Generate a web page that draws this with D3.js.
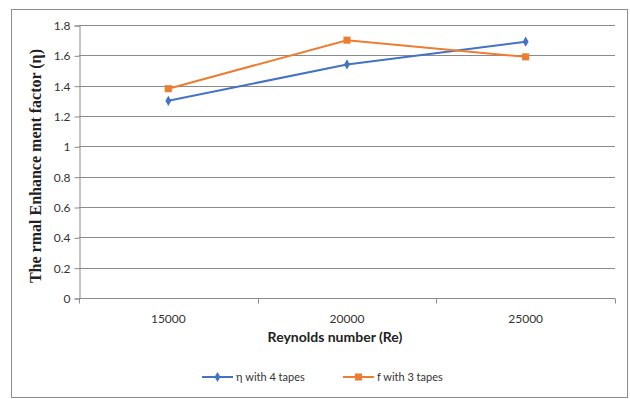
<!DOCTYPE html>
<html>
<head>
<meta charset="utf-8">
<script src="https://cdn.jsdelivr.net/npm/d3@7"></script>
<style>
  body { margin: 0; background: #fff; }
  svg { display: block; }
</style>
</head>
<body>
<div id="chart"><svg width="630" height="399"></svg></div>
<script>
const categories = ['15000', '20000', '25000'];
const seriesNames = ['η with 4 tapes', 'f with 3 tapes'];
const etaFourTapes = [1.30, 1.54, 1.69];
const fThreeTapes = [1.38, 1.70, 1.59];
const yTicks = [0, 0.2, 0.4, 0.6, 0.8, 1, 1.2, 1.4, 1.6, 1.8];

const SVG = d3.select('#chart svg');
const BLUE = '#4472c4';
const ORANGE = '#ed7d31';
const LEFT = 79, RIGHT = 615, TOP = 25, BOTTOM = 298;

// outer frame
SVG.append('rect')
  .attr('x', 11.5).attr('y', 9.5)
  .attr('width', 616).attr('height', 388)
  .style('fill', 'none')
  .style('stroke', '#8c8c8c');

const X_SCALE = d3.scaleBand()
  .domain(categories)
  .range([LEFT, RIGHT]);

const Y_SCALE = d3.scaleLinear()
  .domain([0, 1.8])
  .range([BOTTOM, TOP]);

// gridlines
SVG.append('g')
  .selectAll('line')
  .data(yTicks.slice(1))
  .join('line')
  .attr('x1', LEFT).attr('x2', RIGHT)
  .attr('y1', d => Math.round(Y_SCALE(d)) + 0.5)
  .attr('y2', d => Math.round(Y_SCALE(d)) + 0.5)
  .style('stroke', '#8a8a8a');

const Y_AXIS = d3.axisLeft(Y_SCALE).tickValues(yTicks).tickSize(5).tickFormat(d3.format('~g'));
const Y_AXIS_G = SVG.append('g')
  .attr('transform', `translate(${LEFT + 0.5},0.5)`);
Y_AXIS(Y_AXIS_G);

// x axis with ticks at category boundaries
const X_AXIS_G = SVG.append('g')
  .attr('transform', `translate(0,${BOTTOM + 0.5})`);
X_AXIS_G.append('line')
  .attr('x1', LEFT).attr('x2', RIGHT)
  .style('stroke', '#8a8a8a');
const bounds = categories.map(c => X_SCALE(c)).concat([X_SCALE(categories[categories.length - 1]) + X_SCALE.bandwidth()]);
X_AXIS_G.selectAll('line.tk')
  .data(bounds)
  .join('line')
  .attr('class', 'tk')
  .attr('x1', d => Math.round(d) + 0.5).attr('x2', d => Math.round(d) + 0.5)
  .attr('y1', 0).attr('y2', 5)
  .style('stroke', '#8a8a8a');
X_AXIS_G.selectAll('text')
  .data(categories)
  .join('text')
  .attr('x', d => X_SCALE(d) + X_SCALE.bandwidth() / 2)
  .attr('y', 24)
  .text(d => d)
  .style('text-anchor', 'middle')
  .style('font-family', 'Lato, "Open Sans", sans-serif')
  .style('font-size', '12px')
  .style('fill', '#333');

Y_AXIS_G.select('.domain').style('stroke', '#8a8a8a');
Y_AXIS_G.selectAll('.tick line').style('stroke', '#8a8a8a');
Y_AXIS_G.selectAll('.tick text')
  .attr('x', -9)
  .style('font-family', 'Lato, "Open Sans", sans-serif')
  .style('font-size', '12px')
  .style('fill', '#333');

// axis titles
SVG.append('text')
  .attr('transform', `translate(41,166) rotate(-90)`)
  .text('The rmal Enhance ment factor (η)')
  .style('text-anchor', 'middle')
  .style('font-family', '"Liberation Serif", serif')
  .style('font-weight', 'bold')
  .style('font-size', '16px')
  .style('fill', '#222');

SVG.append('text')
  .attr('x', 335).attr('y', 342)
  .text('Reynolds number (Re)')
  .style('text-anchor', 'middle')
  .style('font-family', 'Lato, "Open Sans", sans-serif')
  .style('font-weight', 'bold')
  .style('font-size', '14px')
  .style('fill', '#222');

// series
const series = [
  { name: seriesNames[0], values: etaFourTapes, color: BLUE, symbol: d3.symbolDiamond, size: 30 },
  { name: seriesNames[1], values: fThreeTapes, color: ORANGE, symbol: d3.symbolSquare, size: 50 }
];

const line = d3.line()
  .x((d, i) => X_SCALE(categories[i]) + X_SCALE.bandwidth() / 2)
  .y(d => Y_SCALE(d));

series.forEach(s => {
  SVG.append('path')
    .datum(s.values)
    .attr('d', line)
    .style('fill', 'none')
    .style('stroke', s.color)
    .style('stroke-width', 2);
  SVG.append('g')
    .selectAll('path')
    .data(s.values)
    .join('path')
    .attr('transform', (d, i) => `translate(${X_SCALE(categories[i]) + X_SCALE.bandwidth() / 2},${Y_SCALE(d)})`)
    .attr('d', d3.symbol(s.symbol, s.size))
    .style('fill', s.color);
});

// legend
const legendX = [202, 343];
series.forEach((s, i) => {
  const g = SVG.append('g').attr('transform', `translate(${legendX[i]},377)`);
  g.append('line')
    .attr('x1', 0).attr('x2', 31)
    .style('stroke', s.color)
    .style('stroke-width', 2);
  g.append('path')
    .attr('transform', 'translate(15.5,0)')
    .attr('d', d3.symbol(s.symbol, s.size))
    .style('fill', s.color);
  g.append('text')
    .attr('x', 34).attr('y', 4)
    .text(s.name)
    .style('font-family', 'Lato, "Open Sans", sans-serif')
    .style('font-size', '11px')
    .style('fill', '#333');
});
</script>
</body>
</html>
